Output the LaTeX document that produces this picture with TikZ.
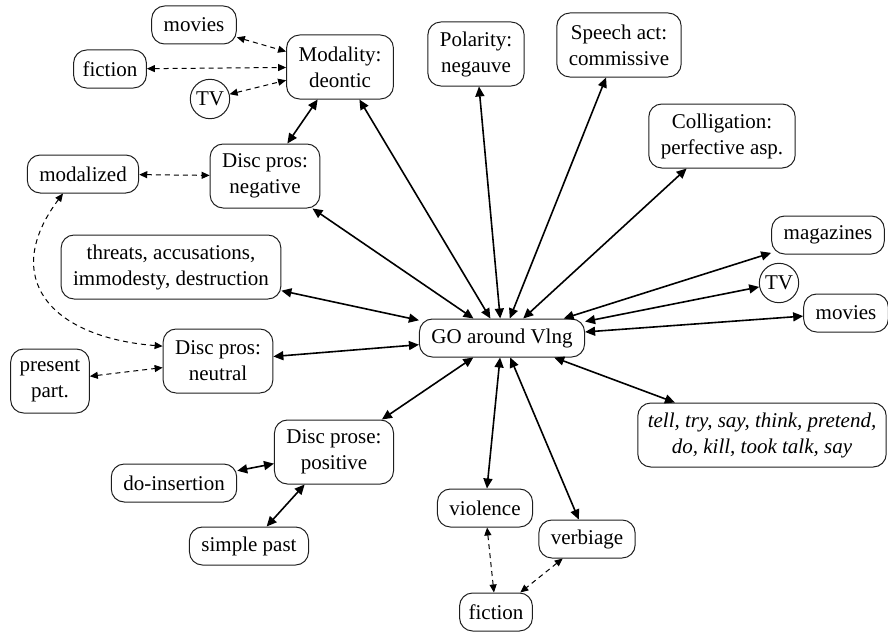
\documentclass[tikz,border=0pt]{standalone}
\usepackage{fontspec}
\setmainfont{Liberation Serif}
\usepackage{xcolor}
\usepackage{tikz}
\usetikzlibrary{shapes,arrows.meta,positioning,calc}
\definecolor{ink}{RGB}{0, 0, 0}
\definecolor{boxline}{RGB}{30, 30, 30}

\tikzset{
    box/.style={draw=boxline, line width=1pt, rounded corners=13pt, align=center,
        inner xsep=12pt, inner ysep=7pt, minimum height=38pt, font=\fontsize{21}{26}\selectfont},
    tallbox/.style={box, minimum height=64pt},
    ring/.style={draw=boxline, line width=1pt, circle, inner sep=3pt, font=\fontsize{21}{26}\selectfont},
    link/.style={ink, line width=1.6pt, {Triangle[length=10pt,width=9pt]}-{Triangle[length=10pt,width=9pt]}},
    hint/.style={ink, line width=1pt, dash pattern=on 5pt off 4pt, {Triangle[length=8pt,width=7pt]}-{Triangle[length=8pt,width=7pt]}}
}

\begin{document}
\begin{tikzpicture}[x=1pt, y=-1pt]
    \useasboundingbox (0,0) rectangle (888,634);
    \node[box] (go) at (502,338) {GO around Vlng};
    \node[tallbox] (modality) at (340,67) {Modality:\\deontic};
    \node[tallbox] (polarity) at (476,54) {Polarity:\\negauve};
    \node[tallbox] (speech) at (619,45) {Speech act:\\commissive};
    \node[tallbox] (colligation) at (722,136) {Colligation:\\perfective asp.};
    \node[tallbox] (negpros) at (265,176) {Disc pros:\\negative};
    \node[tallbox] (neutpros) at (218,361) {Disc pros:\\neutral};
    \node[tallbox] (pospros) at (334,452) {Disc prose:\\positive};
    \node[tallbox] (threats) at (171,267) {threats, accusations,\\immodesty, destruction};
    \node[tallbox, inner xsep=9pt] (presentpart) at (50,381) {present\\part.};
    \node[tallbox, inner xsep=10pt, font=\fontsize{21}{26}\selectfont\itshape] (verbs) at (762,435) {tell, try, say, think, pretend,\\do, kill, took talk, say};
    \node[box] (modalized) at (83,174) {modalized};
    \node[box] (doinsert) at (174,483) {do-insertion};
    \node[box] (simplepast) at (249,546) {simple past};
    \node[box] (moviesmod) at (194,25) {movies};
    \node[box, inner xsep=9pt] (fictionmod) at (110,69) {fiction};
    \node[ring] (tvmod) at (210,99) {TV};
    \node[box] (magazines) at (828,235) {magazines};
    \node[ring] (tvgo) at (779,283) {TV};
    \node[box] (moviesgo) at (846,313) {movies};
    \node[box] (violence) at (485,508) {violence};
    \node[box] (verbiage) at (587,539) {verbiage};
    \node[box, inner xsep=9pt] (fictionlow) at (496,612) {fiction};

    \draw[link] (modality) -- (negpros);
    \draw[link] (modality) -- (go);
    \draw[link] (negpros) -- (go);
    \draw[link] (threats) -- (go);
    \draw[link] (neutpros) -- (go);
    \draw[link] (pospros) -- (go);
    \draw[link] (pospros) -- (doinsert);
    \draw[link] (pospros) -- (simplepast);
    \draw[link] (polarity) -- (go);
    \draw[link] (speech) -- (go);
    \draw[link] (colligation) -- (go);
    \draw[link] (magazines) -- (go);
    \draw[link] (tvgo) -- (go);
    \draw[link] (moviesgo) -- (go);
    \draw[link] (verbs) -- (go);
    \draw[link] (violence) -- (go);
    \draw[link] (verbiage) -- (go);

    \draw[hint] (moviesmod) -- (modality);
    \draw[hint] (fictionmod) -- (modality);
    \draw[hint] (tvmod) -- (modality);
    \draw[hint] (modalized) -- (negpros);
    \draw[hint] ([xshift=-20pt]modalized.south) .. controls +(-63,84) and +(-113,-9) .. (neutpros.165);
    \draw[hint] (presentpart) -- (neutpros);
    \draw[hint] (violence) -- (fictionlow);
    \draw[hint] (verbiage) -- (fictionlow);
\end{tikzpicture}
\end{document}
